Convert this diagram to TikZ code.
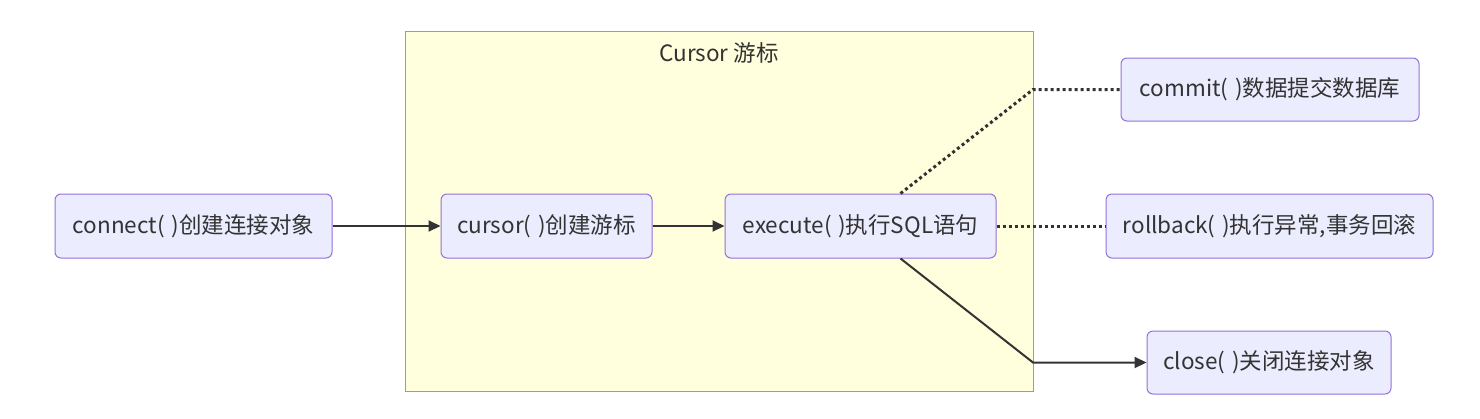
\documentclass[tikz,border=0pt]{standalone}
\usepackage{fontspec}
\setmainfont{Noto Sans CJK SC}
\usetikzlibrary{arrows.meta,calc}
\definecolor{nodefill}{HTML}{ECECFF}
\definecolor{nodeline}{HTML}{9370DB}
\definecolor{clusterfill}{HTML}{FFFFDE}
\definecolor{clusterline}{HTML}{AAAA33}
\definecolor{ink}{HTML}{333333}
\newcommand{\gp}{(\hspace{0.3em})}
\begin{document}
\begin{tikzpicture}[x=1pt,y=-1pt,
  box/.style={draw=nodeline,fill=nodefill,line width=1pt,rounded corners=6pt,text=ink,font=\fontsize{22.5}{26}\selectfont,inner sep=0pt,anchor=center},
  link/.style={draw=ink,line width=2pt},
  arr/.style={link,-{Triangle[length=12pt,width=11pt]}},
  dot/.style={draw=ink,line width=3pt,dash pattern=on 3pt off 3pt}]
\useasboundingbox (0,0) rectangle (1480,418);
\node[draw=clusterline,fill=clusterfill,line width=1pt,minimum width=628pt,minimum height=360pt,inner sep=0pt] (cluster) at (719,211) {};
\node[text=ink,font=\fontsize{22.5}{26}\selectfont] (title) at (719,53) {Cursor 游标};
\node[box,minimum width=277pt,minimum height=64pt] (connect) at (193.5,226) {\raisebox{-1pt}{connect\gp 创建连接对象}};
\node[box,minimum width=211pt,minimum height=64pt] (cursor) at (546.5,226) {\raisebox{-1pt}{cursor\gp 创建游标}};
\node[box,minimum width=271pt,minimum height=64pt] (execute) at (860.5,226) {\raisebox{-1pt}{execute\gp 执行SQL语句}};
\node[box,minimum width=298pt,minimum height=63pt] (commit) at (1270,89.5) {\raisebox{-1pt}{commit\gp 数据提交数据库}};
\node[box,minimum width=327pt,minimum height=64pt] (rollback) at (1269.5,226) {\raisebox{-1pt}{rollback\gp 执行异常,事务回滚}};
\node[box,minimum width=244pt,minimum height=63pt] (close) at (1269,362.5) {\raisebox{-1pt}{close\gp 关闭连接对象}};
\coordinate (c1) at (1033,89.5);
\coordinate (c2) at (1033,362.5);
\draw[arr] (connect.east) -- (cursor.west);
\draw[arr] (cursor.east) -- (execute.west);
\draw[dot] ($(execute.north)+(40,0)$) -- (c1) -- (commit.west);
\draw[dot] (execute.east) -- (rollback.west);
\draw[arr] ($(execute.south)+(40,0)$) -- (c2) -- (close.west);
\end{tikzpicture}
\end{document}
